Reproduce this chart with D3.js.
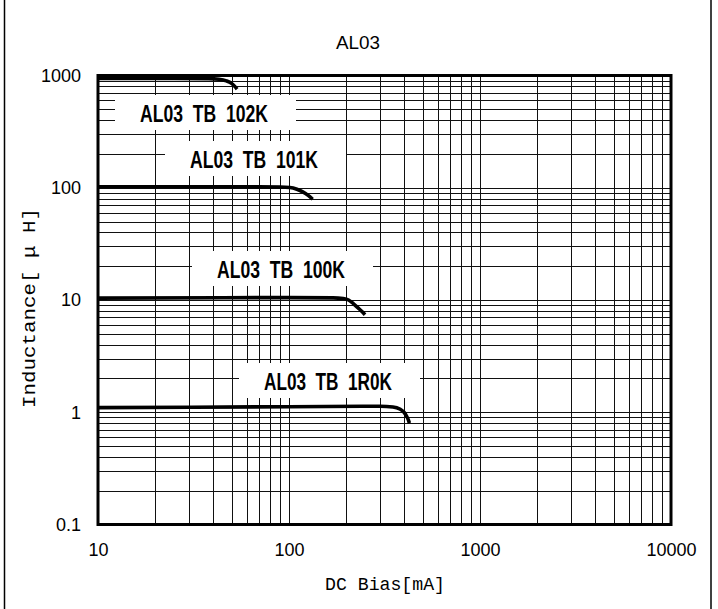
<!DOCTYPE html>
<html>
<head>
<meta charset="utf-8">
<script src="https://cdn.jsdelivr.net/npm/d3@7"></script>
<style>
  html, body { margin: 0; padding: 0; background: #fff; }
  svg { display: block; }
  text { fill: #000; }
</style>
</head>
<body>
<div id="chart"></div>
<script>
// Inductance vs DC bias current for the AL03 TB series (log-log)
const title = "AL03";
const xTitle = "DC Bias[mA]";
const yTitle = "Inductance[ \u03bc H]";

const xTicks = [10, 100, 1000, 10000];
const xTickLabels = ["10", "100", "1000", "10000"];
const yTicks = [0.1, 1, 10, 100, 1000];
const yTickLabels = ["0.1", "1", "10", "100", "1000"];

const seriesNames = ["AL03  TB  102K", "AL03  TB  101K", "AL03  TB  100K", "AL03  TB  1R0K"];

// [DC bias mA, inductance uH]
const curve102K = [[10, 940], [25, 940], [38, 937], [43, 925], [47, 895], [50, 850], [52, 800], [53.5, 755]];
const curve101K = [[10, 102], [50, 102], [90, 101.5], [101, 100.5], [110, 97], [118, 92], [126, 85.5], [133, 79]];
const curve100K = [[10, 10.4], [100, 10.5], [170, 10.45], [192, 10.3], [205, 10.0], [217, 9.3], [230, 8.5], [241, 7.9], [250, 7.4]];
const curve1R0K = [[10, 1.10], [100, 1.12], [300, 1.13], [350, 1.115], [380, 1.07], [400, 1.0], [413, 0.92], [422, 0.85], [427, 0.80]];

const curves = [curve102K, curve101K, curve100K, curve1R0K];

const W = 718, H = 609;
const plot = { left: 98, right: 671, top: 75.5, bottom: 524.5 };

const svg = d3.select("#chart").append("svg")
  .attr("width", W).attr("height", H);

// outer frame sides
svg.append("line").attr("x1", 4.5).attr("x2", 4.5).attr("y1", 0).attr("y2", H)
  .attr("stroke", "#000").attr("stroke-width", 1.5);
svg.append("line").attr("x1", 711).attr("x2", 711).attr("y1", 0).attr("y2", H)
  .attr("stroke", "#000").attr("stroke-width", 1.5);

const x = d3.scaleLog().domain([10, 10000]).range([plot.left, plot.right]);
const y = d3.scaleLog().domain([0.1, 1000]).range([plot.bottom, plot.top]);

// minor + major grid values
function gridValues(lo, hi) {
  const out = [];
  for (let d = lo; d < hi; d *= 10) {
    for (let k = 1; k <= 9; k++) {
      const v = d * k;
      if (v > lo && v < hi) out.push(v);
    }
  }
  return out;
}

const grid = svg.append("g").attr("shape-rendering", "crispEdges");
grid.selectAll("line.vx").data(gridValues(10, 10000)).join("line")
  .attr("class", "vx")
  .attr("x1", d => Math.round(x(d)) + 0.5).attr("x2", d => Math.round(x(d)) + 0.5)
  .attr("y1", plot.top).attr("y2", plot.bottom)
  .attr("stroke", "#111").attr("stroke-width", 1);
grid.selectAll("line.hy").data(gridValues(0.1, 1000)).join("line")
  .attr("class", "hy")
  .attr("x1", plot.left).attr("x2", plot.right)
  .attr("y1", d => Math.round(y(d)) + 0.5).attr("y2", d => Math.round(y(d)) + 0.5)
  .attr("stroke", "#111").attr("stroke-width", 1);

// series labels on white boxes over the grid
const labelSpots = [
  { left: 140, base: 122 },
  { left: 190, base: 168 },
  { left: 217, base: 278 },
  { left: 264, base: 390 }
];
const labelG = svg.append("g");
seriesNames.forEach((name, i) => {
  const p = labelSpots[i];
  const tw = 128;
  labelG.append("rect")
    .attr("x", p.left - 25).attr("y", p.base - 27)
    .attr("width", tw + 53).attr("height", 35)
    .attr("fill", "#fff");
  labelG.append("text")
    .attr("x", p.left).attr("y", p.base)
    .attr("textLength", tw).attr("lengthAdjust", "spacingAndGlyphs")
    .style("white-space", "pre")
    .attr("font-family", "'Liberation Sans', Arial, sans-serif")
    .attr("font-weight", "bold")
    .attr("font-size", 24)
    .text(name);
});

// curves
const line = d3.line()
  .x(d => x(d[0])).y(d => y(d[1]))
  .curve(d3.curveMonotoneX);
svg.append("g").selectAll("path").data(curves).join("path")
  .attr("d", line)
  .attr("fill", "none").attr("stroke", "#000")
  .attr("stroke-width", 3.6).attr("stroke-linecap", "butt").attr("stroke-linejoin", "round");

// plot border
svg.append("rect")
  .attr("x", plot.left).attr("y", plot.top)
  .attr("width", plot.right - plot.left).attr("height", plot.bottom - plot.top)
  .attr("fill", "none").attr("stroke", "#000").attr("stroke-width", 3);

// axes (labels only)
const tickFont = "'Liberation Sans', Arial, sans-serif";
const xAxis = d3.axisBottom(x).tickValues(xTicks)
  .tickFormat((d, i) => xTickLabels[i]).tickSize(0).tickPadding(19);
const gx = svg.append("g").attr("transform", `translate(0,${plot.bottom})`).call(xAxis);
gx.select(".domain").remove();
gx.selectAll("text").attr("font-family", tickFont).attr("font-size", 18).attr("fill", "#222");

const yAxis = d3.axisLeft(y).tickValues(yTicks)
  .tickFormat((d, i) => yTickLabels[i]).tickSize(0).tickPadding(17);
const gy = svg.append("g").attr("transform", `translate(${plot.left},0)`).call(yAxis);
gy.select(".domain").remove();
gy.selectAll("text").attr("font-family", tickFont).attr("font-size", 18).attr("fill", "#222");

const titleFont = "'Liberation Mono', 'DejaVu Sans Mono', monospace";
svg.append("text").attr("x", 358).attr("y", 49)
  .attr("text-anchor", "middle").attr("font-family", tickFont)
  .attr("font-size", 18).attr("fill", "#222")
  .attr("textLength", 44).attr("lengthAdjust", "spacingAndGlyphs")
  .text(title);

svg.append("text").attr("x", 385).attr("y", 590)
  .attr("text-anchor", "middle").attr("font-family", titleFont)
  .attr("font-size", 18).attr("fill", "#222")
  .attr("textLength", 120).attr("lengthAdjust", "spacingAndGlyphs")
  .text(xTitle);

svg.append("text")
  .attr("transform", "translate(35,308) rotate(-90)")
  .attr("text-anchor", "middle").attr("font-family", titleFont)
  .attr("font-size", 18).attr("fill", "#222")
  .attr("textLength", 200).attr("lengthAdjust", "spacingAndGlyphs")
  .style("white-space", "pre")
  .text(yTitle);
</script>
</body>
</html>
